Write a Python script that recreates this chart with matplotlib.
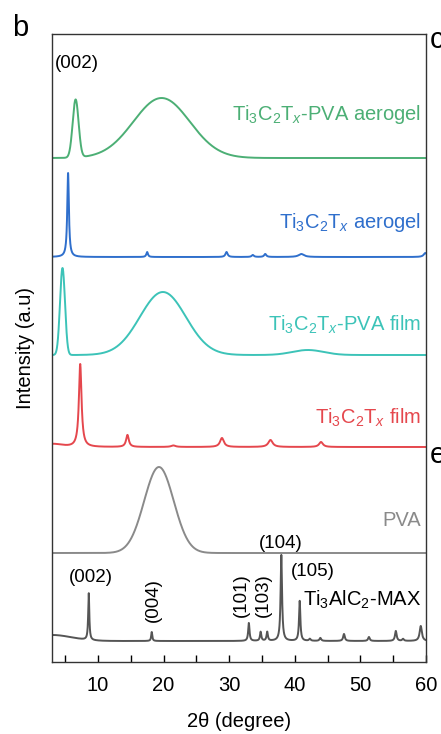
import numpy as np
import matplotlib
matplotlib.use("Agg")
import matplotlib.pyplot as plt

plt.rcParams["font.family"] = ["Liberation Sans", "DejaVu Sans"]
plt.rcParams["mathtext.fontset"] = "custom"
plt.rcParams["mathtext.rm"] = "Liberation Sans"
plt.rcParams["mathtext.it"] = "Liberation Sans:italic"

# 2-theta grid
two_theta = np.linspace(3, 60, 3000)

# Each trace: baseline offset, peaks as (center, height, width, shape)
# shape "g" = gaussian (width = sigma), "l" = lorentzian (width = hwhm)
aerogel_pva_offset = 504
aerogel_pva_peaks = [(6.6, 58, 0.45, "g"), (19.7, 60, 4.3, "g")]

aerogel_offset = 405
aerogel_peaks = [(5.45, 84, 0.15, "l"), (17.5, 5, 0.15, "l"), (29.6, 5, 0.2, "l"),
                 (33.6, 2, 0.2, "l"), (35.5, 3, 0.2, "l"), (41.0, 3, 0.5, "l"),
                 (59.9, 4, 0.3, "l")]

film_pva_offset = 307
film_pva_peaks = [(4.6, 87, 0.38, "g"), (19.9, 63, 3.5, "g"), (42.0, 5, 2.4, "g")]

film_offset = 215
film_peaks = [(7.3, 83, 0.24, "l"), (14.5, 12, 0.25, "l"), (21.5, 1.5, 0.4, "l"),
              (28.9, 9, 0.35, "l"), (36.3, 7, 0.4, "l"), (44.0, 5, 0.35, "l"),
              (3.0, 3, 1.5, "g")]

pva_offset = 109
pva_peaks = [(19.3, 86, 2.25, "g")]

max_offset = 21
max_peaks = [(3.0, 6, 3.0, "g"), (8.6, 47, 0.1, "l"), (18.2, 9, 0.1, "l"),
             (33.0, 18, 0.12, "l"), (34.8, 9, 0.12, "l"), (35.8, 9, 0.12, "l"),
             (37.95, 86, 0.13, "l"), (40.75, 40, 0.12, "l"), (42.3, 2, 0.15, "l"),
             (43.9, 3, 0.15, "l"), (47.5, 7, 0.15, "l"), (51.3, 4, 0.15, "l"),
             (55.4, 10, 0.15, "l"), (56.5, 2, 0.15, "l"), (59.2, 15, 0.2, "l")]


def trace(offset, peaks):
    y = np.full_like(two_theta, float(offset))
    for c, h, w, shape in peaks:
        if shape == "g":
            y += h * np.exp(-0.5 * ((two_theta - c) / w) ** 2)
        else:
            y += h / (1 + ((two_theta - c) / w) ** 2)
    return y


fig = plt.figure(figsize=(4.41, 7.34), dpi=100)
ax = fig.add_axes([52 / 441, 72 / 734, 374 / 441, 628 / 734])

series = [
    (aerogel_pva_offset, aerogel_pva_peaks, "#4caf75",
     r"Ti$_3$C$_2$T$_x$-PVA aerogel", 547),
    (aerogel_offset, aerogel_peaks, "#2f6fcc",
     r"Ti$_3$C$_2$T$_x$ aerogel", 440),
    (film_pva_offset, film_pva_peaks, "#3cc3b8",
     r"Ti$_3$C$_2$T$_x$-PVA film", 337),
    (film_offset, film_peaks, "#e5474d",
     r"Ti$_3$C$_2$T$_x$ film", 244),
    (pva_offset, pva_peaks, "#8a8a8a", "PVA", 142),
]
for off, pk, col, lab, ly in series:
    ax.plot(two_theta, trace(off, pk), color=col, lw=1.4)
    ax.text(59.2, ly, lab, color=col, fontsize=14.5, ha="right", va="center")

ax.plot(two_theta, trace(max_offset, max_peaks), color="#555555", lw=1.4)
ax.text(41.2, 62, r"Ti$_3$AlC$_2$-MAX", color="black", fontsize=14.5,
        ha="left", va="center")

# peak index labels
ax.text(3.4, 598, "(002)", fontsize=13.5, ha="left", va="center")
ax.text(8.9, 84, "(002)", fontsize=13.5, ha="center", va="center")
ax.text(18.4, 62, "(004)", fontsize=13.5, ha="center", va="center", rotation=90)
ax.text(31.8, 67, "(101)", fontsize=13.5, ha="center", va="center", rotation=90)
ax.text(35.2, 67, "(103)", fontsize=13.5, ha="center", va="center", rotation=90)
ax.text(37.8, 119, "(104)", fontsize=13.5, ha="center", va="center")
ax.text(42.8, 90, "(105)", fontsize=13.5, ha="center", va="center")

ax.set_xlim(3, 60)
ax.set_ylim(0, 628)
ax.set_xticks([10, 20, 30, 40, 50, 60])
ax.set_xticks([5, 15, 25, 35, 45, 55], minor=True)
ax.set_yticks([])
ax.tick_params(axis="x", which="both", direction="in", length=5, width=1,
               labelsize=14.5, pad=10)
for s in ax.spines.values():
    s.set_color("#333333")
    s.set_linewidth(1)
ax.set_xlabel("2θ (degree)", fontsize=14.5, labelpad=12)
ax.set_ylabel("Intensity (a.u)", fontsize=14.5, labelpad=12)

fig.text(12 / 441, 1 - 28 / 734, "b", fontsize=21, va="center", ha="left")
fig.text(430 / 441, 1 - 40 / 734, "c", fontsize=21, va="center", ha="left")
fig.text(430 / 441, 1 - 455 / 734, "e", fontsize=21, va="center", ha="left")

fig.savefig("out.png", dpi=100)
